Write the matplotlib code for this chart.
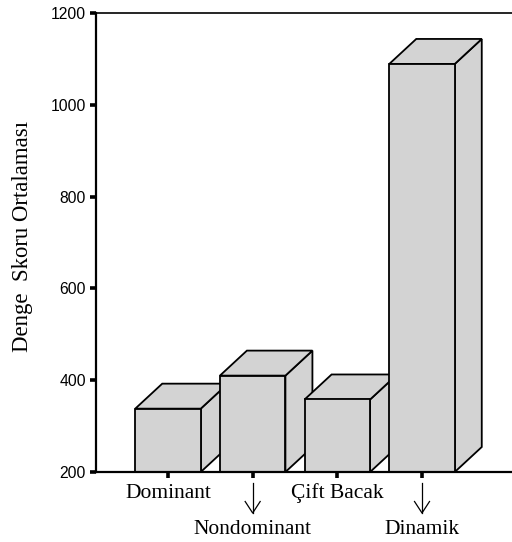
import matplotlib
matplotlib.use("Agg")
import matplotlib.pyplot as plt
from matplotlib.patches import Polygon

categories = ["Dominant", "Nondominant", "Çift Bacak", "Dinamik"]
values = [338, 410, 358, 1089]
y_ticks = [200, 400, 600, 800, 1000, 1200]
y_label = "Denge  Skoru Ortalaması"

W, H = 512, 542
fig = plt.figure(figsize=(W / 100, H / 100), dpi=100)
left, right, top, bottom = 95.5, 512, 13, 472
ax = fig.add_axes([left / W, 1 - bottom / H, (right - left) / W, (bottom - top) / H])

px_per_cat = 84.67
x_first = 168.0
ax.set_xlim((left - x_first) / px_per_cat, (right - x_first) / px_per_cat)
ax.set_ylim(200, 1200)

bar_w = 65.5 / px_per_cat
dx = 27 / px_per_cat
dy = 25 / (459 / 1000)
face = "#d3d3d3"
lw = 1.3
base = 200
for i, v in enumerate(values):
    l, r = i - bar_w / 2, i + bar_w / 2
    z = 3 + i
    kw = dict(facecolor=face, edgecolor="black", linewidth=lw, joinstyle="miter", clip_on=False, zorder=z)
    ax.add_patch(Polygon([(r, base), (r + dx, base + dy), (r + dx, v + dy), (r, v)], **kw))
    ax.add_patch(Polygon([(l, v), (l + dx, v + dy), (r + dx, v + dy), (r, v)], **kw))
    ax.add_patch(Polygon([(l, base), (r, base), (r, v), (l, v)], **kw))

ax.spines["right"].set_visible(False)
ax.spines["left"].set_linewidth(1.6)
ax.spines["bottom"].set_linewidth(1.6)
ax.spines["bottom"].set_zorder(10)
ax.spines["top"].set_linewidth(1.2)

ax.set_yticks(y_ticks)
ax.tick_params(axis="y", length=4, width=2.6, pad=3, labelsize=11.3)
for t in ax.get_yticklabels():
    t.set_fontfamily("Liberation Sans")
ax.set_xticks(range(len(categories)))
ax.set_xticklabels([])
ax.tick_params(axis="x", length=4, width=2.6)

serif = "Liberation Serif"
for i, c in enumerate(categories):
    ypx = 493.5 if i % 2 == 0 else 529
    xp = x_first + i * px_per_cat
    fig.text(xp / W, 1 - ypx / H, c, family=serif, fontsize=15.5, ha="center", va="center")
    if i % 2 == 1:
        xf = xp / W
        fig.add_artist(plt.Line2D([xf, xf], [1 - 483 / H, 1 - 513 / H], color="black", lw=0.9))
        fig.add_artist(plt.Line2D([(xp - 7.5) / W, xf, (xp + 7.5) / W], [1 - 501.5 / H, 1 - 513 / H, 1 - 501.5 / H],
                                  color="black", lw=0.9))

fig.text(23 / W, 1 - 236.5 / H, y_label, family=serif, fontsize=16.4, rotation=90, ha="center", va="center")
fig.savefig("out.png", dpi=100)
